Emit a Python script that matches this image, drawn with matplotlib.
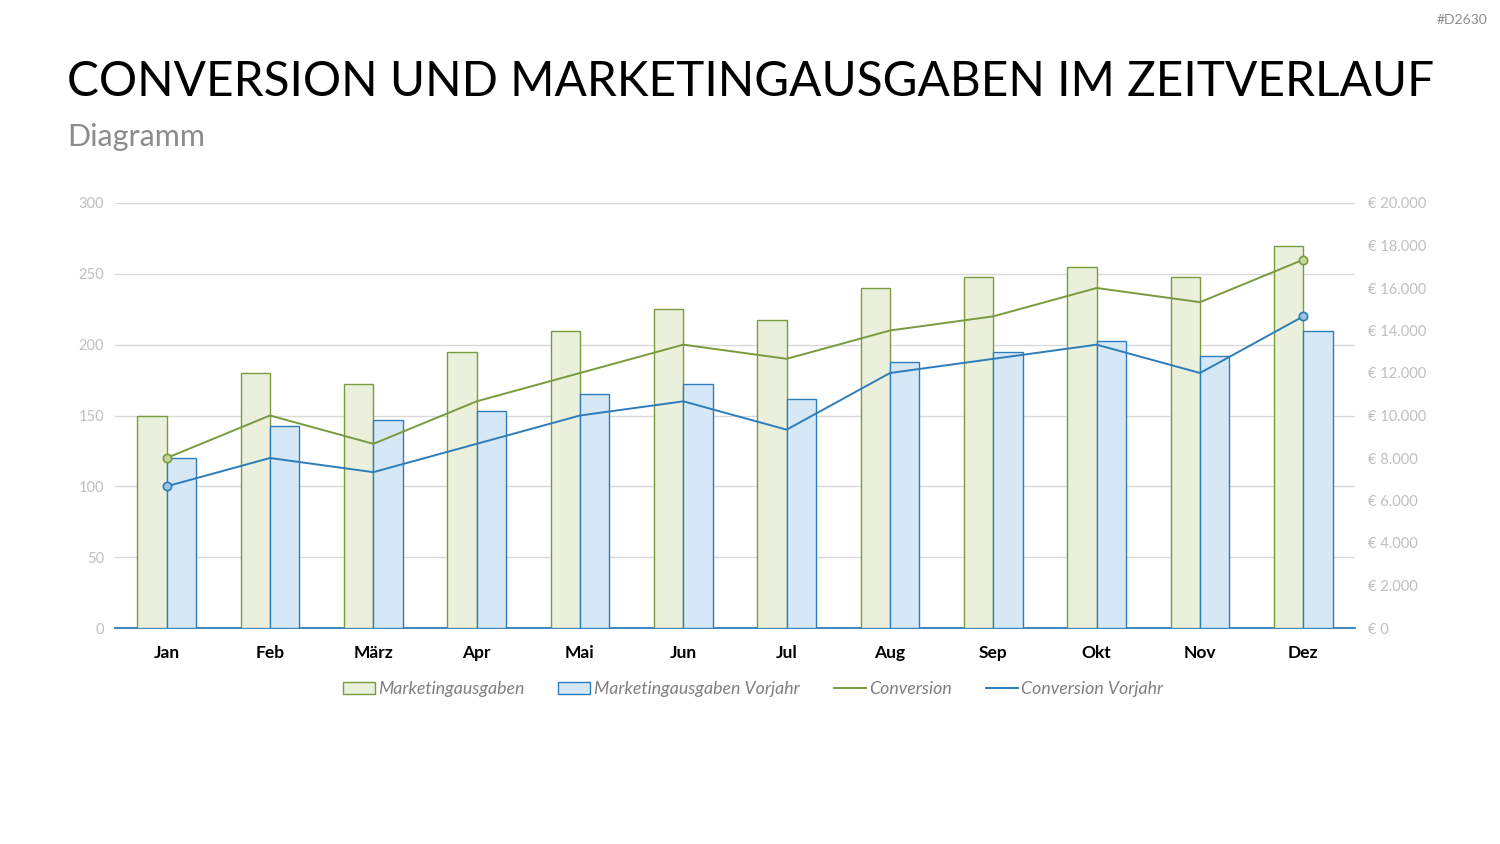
import numpy as np
import matplotlib.pyplot as plt
from matplotlib.ticker import FuncFormatter

months = ['Jan', 'Feb', 'März', 'Apr', 'Mai', 'Jun', 'Jul', 'Aug', 'Sep', 'Okt', 'Nov', 'Dez']
# Marketingausgaben in EUR (right axis)
spend = [10000, 12000, 11500, 13000, 14000, 15000, 14500, 16000, 16500, 17000, 16500, 18000]
spend_prev = [8000, 9500, 9800, 10200, 11000, 11500, 10800, 12500, 13000, 13500, 12800, 14000]
# Conversions (left axis)
conv = [120, 150, 130, 160, 180, 200, 190, 210, 220, 240, 230, 260]
conv_prev = [100, 120, 110, 130, 150, 160, 140, 180, 190, 200, 180, 220]

green = '#7A9A3E'
green_fill = '#EBF0DD'
blue = '#2E7DBB'
blue_fill = '#D6E8F6'
tick_grey = '#BFBFBF'

plt.rcParams['font.family'] = ['Lato', 'DejaVu Sans']

fig = plt.figure(figsize=(15, 8.44), dpi=100)
ax = fig.add_axes([115 / 1500, 1 - 628 / 844, 1240 / 1500, 425 / 844])
ax2 = ax.twinx()

x = np.arange(len(months))
w = 0.285

# bars on the EUR scale
ax.bar(x - w / 2, spend, w, color=green_fill, edgecolor=green, linewidth=1.0,
       label='Marketingausgaben', zorder=3)
ax.bar(x + w / 2, spend_prev, w, color=blue_fill, edgecolor=blue, linewidth=1.0,
       label='Marketingausgaben Vorjahr', zorder=3)
ax.set_ylim(0, 20000)
ax.set_xlim(-0.5, len(months) - 0.5)

# lines on the 0-300 scale
ax2.plot(x, conv, color=green, linewidth=1.4, label='Conversion', zorder=4)
ax2.plot(x, conv_prev, color=blue, linewidth=1.4, label='Conversion Vorjahr', zorder=4)
ends = [0, len(months) - 1]
ax2.plot(x[ends], np.array(conv)[ends], 'o', ms=6, mfc='#C5D6A0', mec=green, mew=1.2, zorder=5)
ax2.plot(x[ends], np.array(conv_prev)[ends], 'o', ms=6, mfc='#9DC3E6', mec=blue, mew=1.2, zorder=5)
ax2.set_ylim(0, 300)

# ticks: EUR on the right, counts on the left
ax.yaxis.tick_right()
ax.set_yticks(np.arange(0, 20001, 2000))
ax.yaxis.set_major_formatter(FuncFormatter(lambda v, p: '€ ' + f'{int(v):,}'.replace(',', '.')))
# gridlines follow the left scale (every 50)
ax.yaxis.remove_overlapping_locs = False
ax.set_yticks(np.linspace(0, 20000, 7), minor=True)
ax.grid(which='minor', axis='y', color='#D9D9D9', linewidth=1.0, zorder=0)
ax.tick_params(axis='y', which='both', length=0, labelsize=10.5, labelcolor=tick_grey, pad=9)
ax.set_axisbelow(True)

ax2.yaxis.tick_left()
ax2.set_yticks(np.arange(0, 301, 50))
ax2.tick_params(axis='y', length=0, labelsize=10.5, labelcolor=tick_grey, pad=8)

ax.set_xticks(x)
ax.set_xticklabels(months, fontweight='bold', fontsize=12.5)
ax.tick_params(axis='x', length=0, pad=12)

for a in (ax, ax2):
    for s in a.spines.values():
        s.set_visible(False)
ax.spines['bottom'].set_visible(True)
ax.spines['bottom'].set_color(blue)
ax.spines['bottom'].set_linewidth(1.3)

h1, l1 = ax.get_legend_handles_labels()
h2, l2 = ax2.get_legend_handles_labels()
leg = fig.legend(h1 + h2, l1 + l2, loc='center', bbox_to_anchor=(753 / 1500, 1 - 689 / 844),
                 ncol=4, frameon=False, handlelength=1.8, handleheight=0.7, handletextpad=0.2,
                 columnspacing=1.9, prop={'style': 'italic', 'size': 12.8})
for t in leg.get_texts():
    t.set_color('#7F7F7F')

fig.text(67 / 1500, 1 - 82 / 844, 'CONVERSION UND MARKETINGAUSGABEN IM ZEITVERLAUF',
         fontsize=34.4, va='center', ha='left', color='black')
fig.text(67 / 1500, 1 - 137 / 844, 'Diagramm', fontsize=22, va='center', ha='left', color='#8C8C8C')
fig.text(1487 / 1500, 1 - 20 / 844, '#D2630', fontsize=10, va='center', ha='right', color='#8C8C8C')

fig.savefig('out.png', dpi=100)
